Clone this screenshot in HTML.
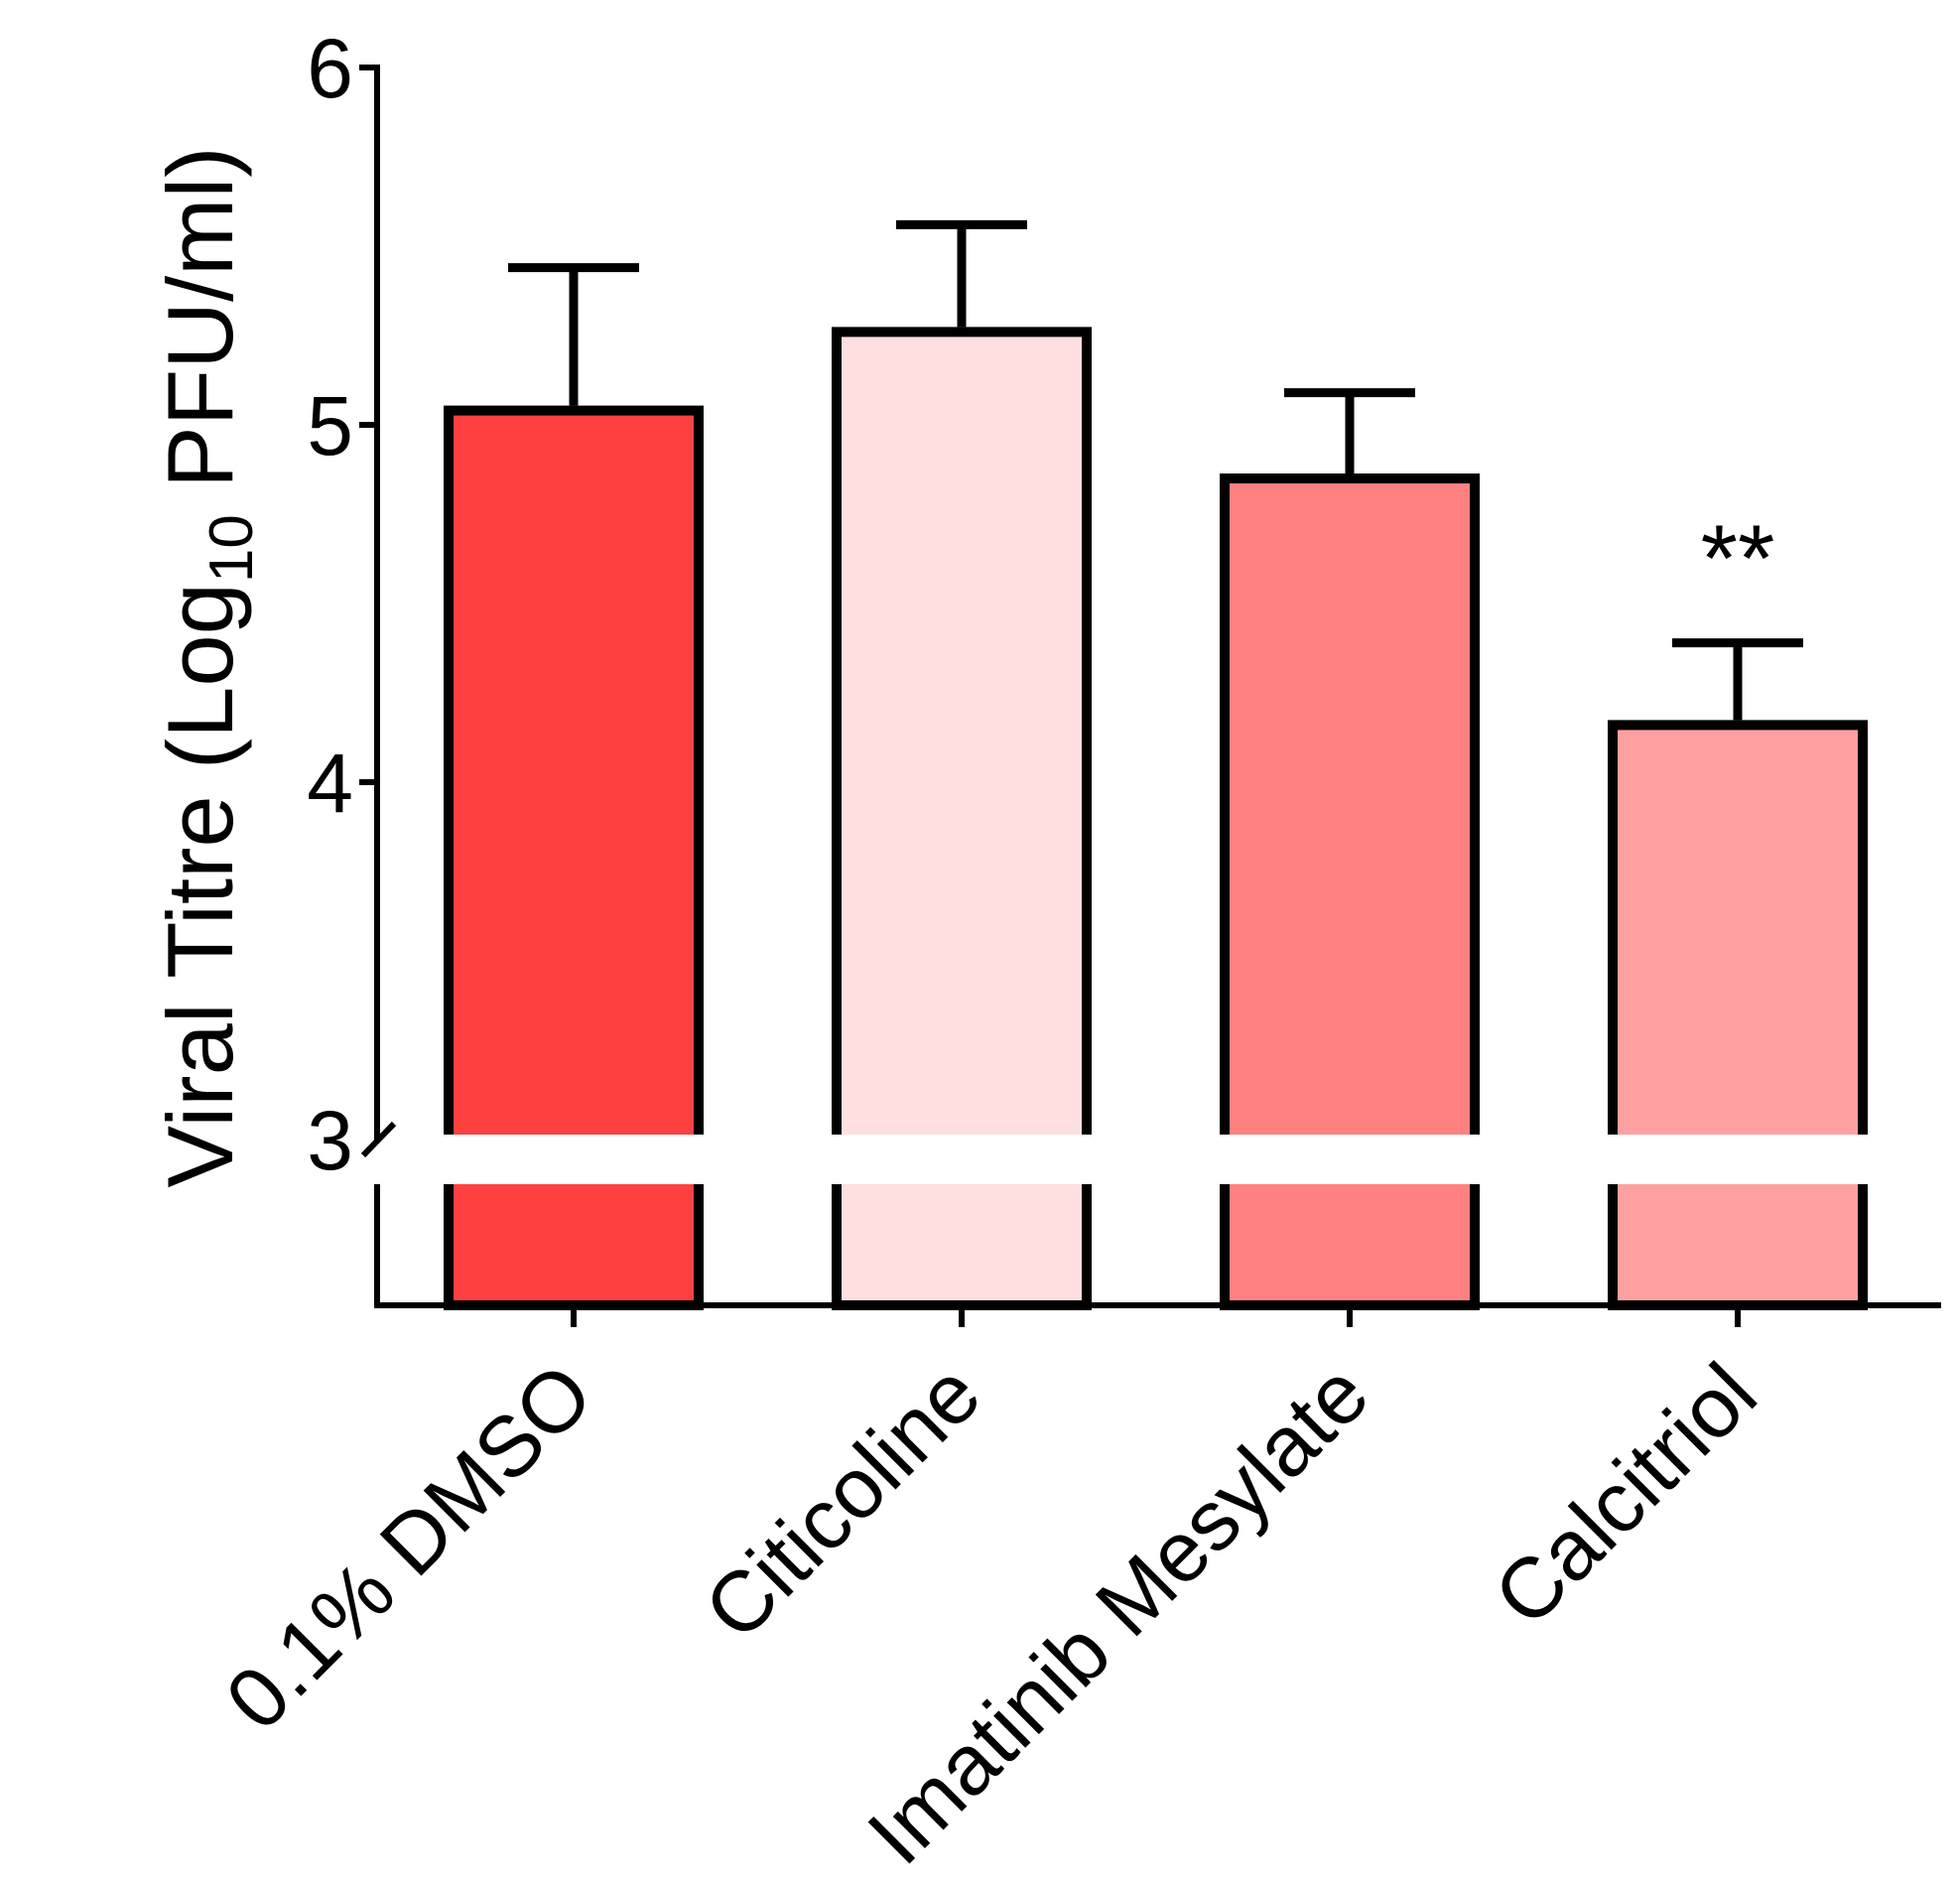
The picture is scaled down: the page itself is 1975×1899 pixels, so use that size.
<!DOCTYPE html>
<html><head><meta charset="utf-8"><style>
html,body{margin:0;padding:0;background:#fff;}
svg{display:block;}
text{font-family:"Liberation Sans",Arial,sans-serif;fill:#000;}
</style></head><body>
<svg id="chart" width="1975" height="1899" viewBox="0 0 1975 1899" xmlns="http://www.w3.org/2000/svg"></svg>
<script>
const categories = ["0.1% DMSO", "Citicoline", "Imatinib Mesylate", "Calcitriol"];
const means = [5.04, 5.26, 4.85, 4.16];
const errors = [0.40, 0.30, 0.24, 0.23];
const colors = ["#FF4040", "#FFDEDF", "#FF8080", "#FFA0A0"];
const yTicks = [3, 4, 5, 6];
const significance = ["", "", "", "**"];

const NS = "http://www.w3.org/2000/svg";
const svg = document.getElementById("chart");
function y(v){ return 428 - (v - 5) * 360; }
function x(i){ return 578 + i * 391; }
const baseline = 1315, barW = 252;
function mk(tag, attrs, parent){
  const e = document.createElementNS(NS, tag);
  for (const k in attrs) e.setAttribute(k, attrs[k]);
  (parent || svg).appendChild(e);
  return e;
}

categories.forEach((c, i) => {
  const g = mk("g", {});
  
  
  mk("rect", {x: x(i) - barW/2, y: y(means[i]), width: barW, height: baseline - y(means[i]), fill: colors[i], stroke: "#000", "stroke-width": 10}, g);
  const eb = mk("g", {stroke: "#000", "stroke-width": 9}, g);
  
  
  mk("line", {x1: x(i), x2: x(i), y1: y(means[i]) - 5, y2: y(means[i] + errors[i])}, eb);
  mk("line", {x1: x(i) - 66, x2: x(i) + 66, y1: y(means[i] + errors[i]), y2: y(means[i] + errors[i])}, eb);
  if (significance[i]) {
    const t = mk("text", {x: x(i), y: y(means[i] + errors[i]) - 52, "text-anchor": "middle", "font-size": 96});
    t.textContent = significance[i];
    
    
  }
});

const gap = mk("rect", {x: 395, y: 1143, width: 1580, height: 50, fill: "#fff"});



const ya = mk("g", {stroke: "#000", "stroke-width": 6, fill: "none"});


mk("line", {x1: 380, x2: 380, y1: y(6) - 3, y2: 1150}, ya);
mk("line", {x1: 366, x2: 397, y1: 1164, y2: 1132}, ya);
mk("line", {x1: 380, x2: 380, y1: 1193, y2: baseline + 3}, ya);
yTicks.forEach(v => {
  if (v !== 3) mk("line", {x1: 362, x2: 380, y1: y(v), y2: y(v)}, ya);
  const t = mk("text", {x: 356, y: y(v) + 30, "text-anchor": "end", "font-size": 84, stroke: "none", fill: "#000"});
  t.textContent = v;
  
  
});

const xa = mk("g", {stroke: "#000", "stroke-width": 6});


mk("line", {x1: 377, x2: 1956, y1: baseline, y2: baseline}, xa);
categories.forEach((c, i) => {
  mk("line", {x1: x(i), x2: x(i), y1: baseline, y2: baseline + 22}, xa);
  const t = mk("text", {x: 0, y: 0, "text-anchor": "end", "font-size": 86, transform: `translate(${x(i) + 24},${1410}) rotate(-45)`});
  t.textContent = c;
  
  
});

const yt = mk("text", {x: 0, y: 0, "text-anchor": "middle", "font-size": 94, transform: "translate(234,672) rotate(-90)"});


yt.innerHTML = 'Viral Titre (Log<tspan font-size="62" dy="20">10</tspan><tspan dy="-20"> PFU/ml)</tspan>';
</script>
</body></html>
